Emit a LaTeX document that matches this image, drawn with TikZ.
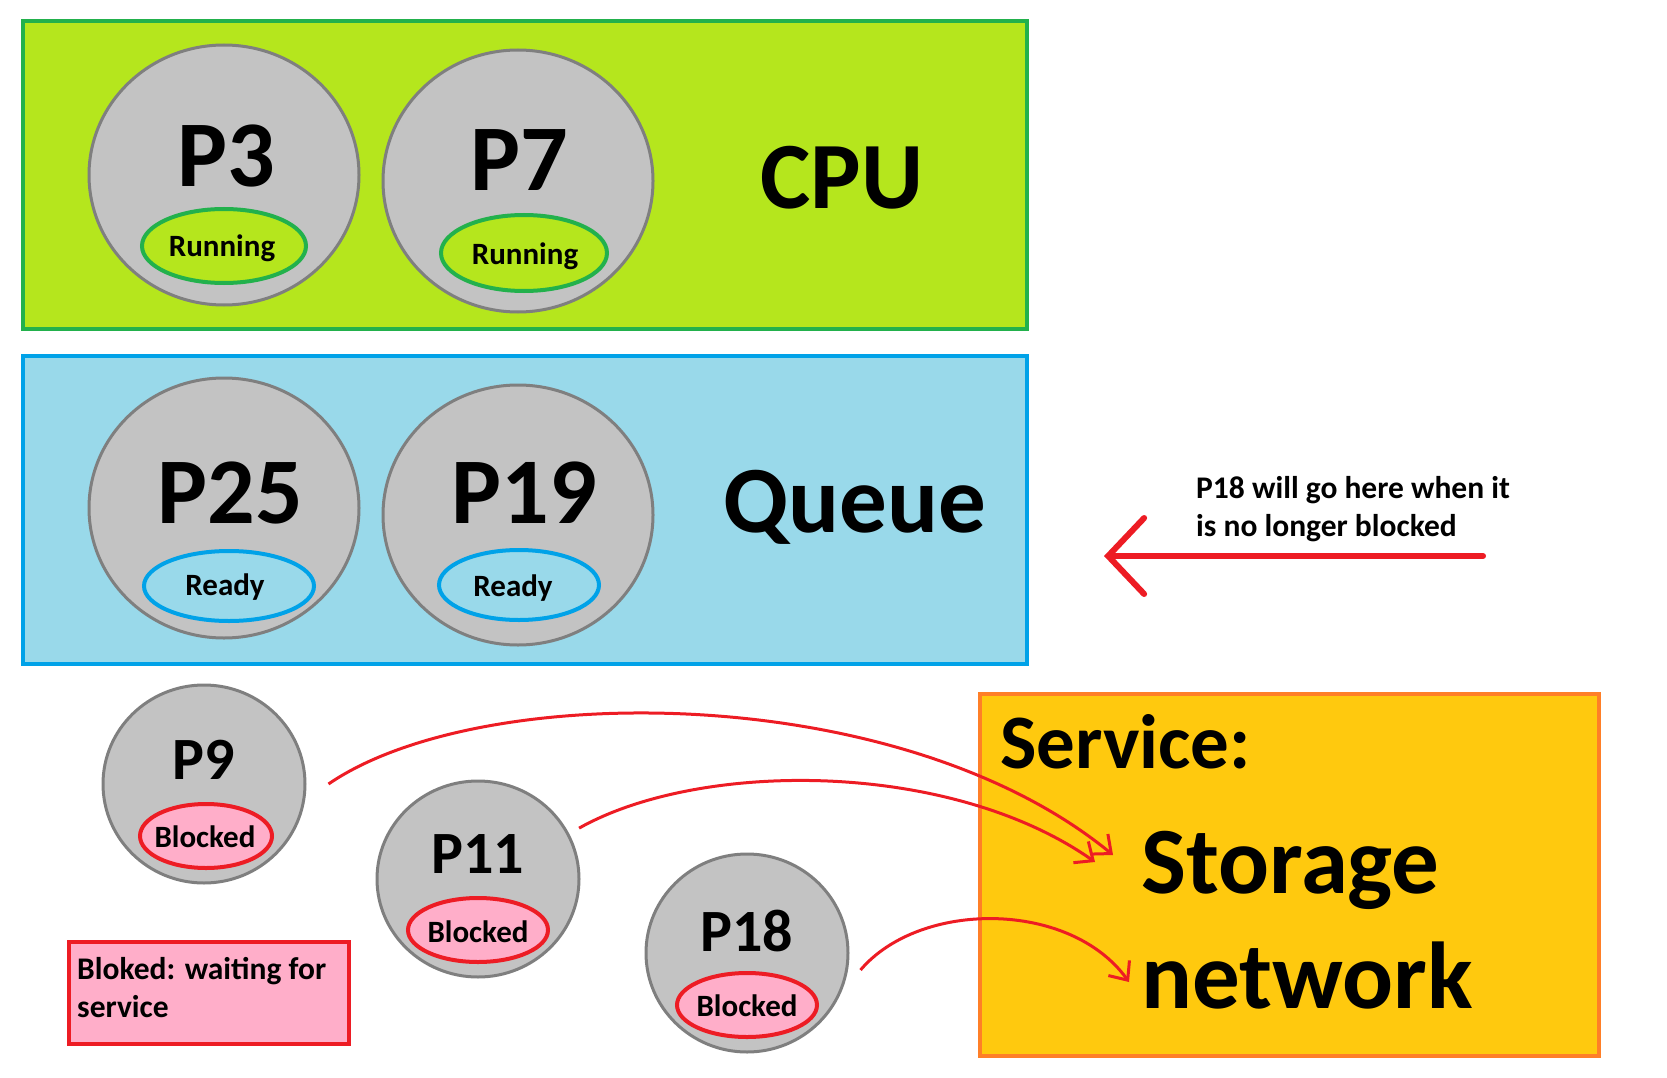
\documentclass[tikz,border=0pt]{standalone}
\usepackage{fontspec}
\setmainfont{Carlito}
\usetikzlibrary{shapes.geometric,arrows.meta}
\definecolor{cpufill}{HTML}{B5E61D}
\definecolor{cpuline}{HTML}{22B14C}
\definecolor{queuefill}{HTML}{99D9EA}
\definecolor{queueline}{HTML}{00A2E8}
\definecolor{procfill}{HTML}{C3C3C3}
\definecolor{procline}{HTML}{7F7F7F}
\definecolor{alarm}{HTML}{ED1C24}
\definecolor{blockfill}{HTML}{FFAEC9}
\definecolor{servfill}{HTML}{FFC90E}
\definecolor{servline}{HTML}{FF7F27}

\begin{document}
\begin{tikzpicture}[x=1pt, y=-1pt,
  box/.style={draw, line width=4pt, inner sep=0pt},
  proc/.style={ellipse, draw=procline, fill=procfill, line width=3pt, inner sep=0pt},
  tag/.style={ellipse, line width=4pt, inner sep=0pt},
  pname/.style={font=\fontsize{94}{94}\selectfont\bfseries, inner sep=0pt, anchor=base},
  pnamesmall/.style={font=\fontsize{60}{60}\selectfont\bfseries, inner sep=0pt, anchor=base},
  state/.style={font=\fontsize{31}{31}\selectfont\bfseries, inner sep=0pt, anchor=base},
  title/.style={font=\fontsize{95}{95}\selectfont\bfseries, inner sep=0pt},
  note/.style={font=\fontsize{31.5}{38}\selectfont\bfseries, inner sep=0pt, align=left, anchor=base west},
  flow/.style={draw=alarm, line width=3pt, -{Straight Barb[length=15pt, width=26pt]}},
  bigarrow/.style={draw=alarm, line width=6pt, line cap=round, -{Straight Barb[length=36pt, width=76pt, line cap=round]}}]
\useasboundingbox (0,0) rectangle (1667,1078);

\node[box, draw=cpuline, fill=cpufill, minimum width=1004, minimum height=308] (cpubox) at (525,175) {};
\node[box, draw=queueline, fill=queuefill, minimum width=1004, minimum height=308] (queuebox) at (525,510) {};
\node[box, draw=servline, fill=servfill, minimum width=619, minimum height=362] (servbox) at (1289.5,875) {};
\node[box, draw=alarm, fill=blockfill, minimum width=280, minimum height=102] (legend) at (209,993) {};

\node[proc, minimum width=270, minimum height=260] (p3) at (224,175) {};
\node[proc, minimum width=270, minimum height=262] (p7) at (518,181) {};
\node[proc, minimum width=270, minimum height=260] (p25) at (224,508) {};
\node[proc, minimum width=270, minimum height=260] (p19) at (518,515) {};
\node[proc, minimum width=202, minimum height=198] (p9) at (204,784) {};
\node[proc, minimum width=202, minimum height=196] (p11) at (478,879) {};
\node[proc, minimum width=202, minimum height=198] (p18) at (747,953) {};

\node[tag, draw=cpuline, fill=cpufill, minimum width=164, minimum height=74] (run3) at (224,246) {};
\node[tag, draw=cpuline, fill=cpufill, minimum width=166, minimum height=76] (run7) at (524,253) {};
\node[tag, draw=queueline, fill=queuefill, minimum width=170, minimum height=70] (ready25) at (229,586) {};
\node[tag, draw=queueline, fill=queuefill, minimum width=160, minimum height=70] (ready19) at (519,585) {};
\node[tag, draw=alarm, fill=blockfill, minimum width=132, minimum height=64] (block9) at (206,836) {};
\node[tag, draw=alarm, fill=blockfill, minimum width=140, minimum height=64] (block11) at (478,930) {};
\node[tag, draw=alarm, fill=blockfill, minimum width=140, minimum height=64] (block18) at (747,1005) {};

\node[pname] (p3name) at (226,187) {P3};
\node[pname] (p7name) at (519,191) {P7};
\node[pname] (p25name) at (230,523) {P25};
\node[pname] (p19name) at (524,523) {P19};
\node[pnamesmall] (p9name) at (204,779) {P9};
\node[pnamesmall] (p11name) at (478,873) {P11};
\node[pnamesmall] (p18name) at (747,951) {P18};

\node[state] (run3name) at (222,256) {Running};
\node[state] (run7name) at (525,264) {Running};
\node[state] (ready25name) at (225,595) {Ready};
\node[state] (ready19name) at (513,596) {Ready};
\node[state] (block9name) at (205,847) {Blocked};
\node[state] (block11name) at (478,942) {Blocked};
\node[state] (block18name) at (747,1016) {Blocked};

\node[title, anchor=base] (cpu) at (842,208) {CPU};
\node[title, anchor=base] (queue) at (855,532) {Queue};
\node[title, anchor=base west, font=\fontsize{77}{77}\selectfont\bfseries] (service) at (1000,768) {Service:};
\node[title, anchor=base west] (storage) at (1141,893) {Storage};
\node[title, anchor=base west] (network) at (1141,1008) {network};

\node[note] (legendtext) at (77,1017) {Bloked: waiting for\\service};
\node[note] (hint) at (1196,536) {P18 will go here when it\\is no longer blocked};

\coordinate (back) at (1483,556);
\draw[bigarrow] (back) -- ++(-379,0);

\draw[flow] ([xshift=22]p9.east) .. controls (480,680) and (900,680) .. ([shift={(-28,-38)}]storage.base west);
\draw[flow] ([xshift=13]p11.30) .. controls (700,760) and (950,760) .. ([shift={(-46,-31)}]storage.base west);
\draw[flow] ([shift={(11,17)}]p18.east) .. controls (920,900) and (1070,900) .. ([shift={(-12,-26)}]network.base west);
\end{tikzpicture}
\end{document}
